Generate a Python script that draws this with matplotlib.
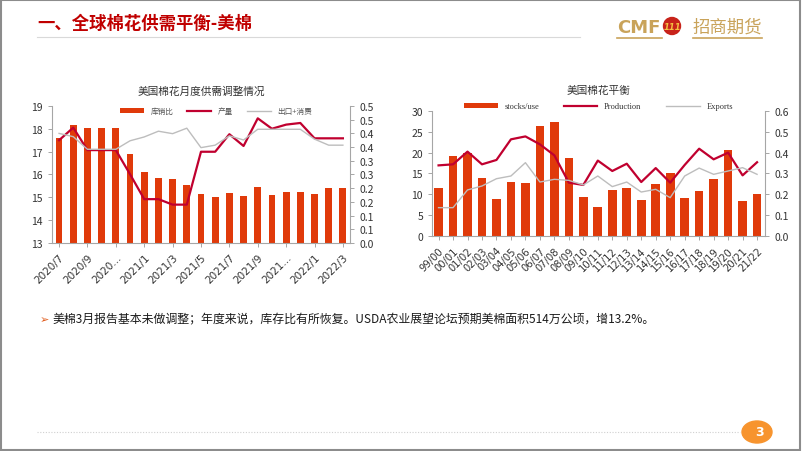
import numpy as np
import matplotlib
matplotlib.use("Agg")
import matplotlib.pyplot as plt
from matplotlib.patches import Rectangle, Ellipse

plt.rcParams['font.family'] = ['Noto Sans CJK SC', 'DejaVu Sans']

# ---- left chart: monthly US balance adjustments
months = ["2020/7", "2020/8", "2020/9", "2020/10", "2020/11", "2020/12",
          "2021/1", "2021/2", "2021/3", "2021/4", "2021/5", "2021/6",
          "2021/7", "2021/8", "2021/9", "2021/10", "2021/11", "2021/12",
          "2022/1", "2022/2", "2022/3"]
month_labels = ["2020/7", "2020/9", "2020...", "2021/1", "2021/3", "2021/5",
                "2021/7", "2021/9", "2021...", "2022/1", "2022/3"]
stock_ratio_m = [17.6, 18.15, 18.05, 18.05, 18.05, 16.9, 16.1, 15.85, 15.8, 15.55,
                 15.15, 15.0, 15.2, 15.05, 15.45, 15.1, 15.25, 15.25, 15.15, 15.4, 15.4]
production_m = [0.375, 0.421, 0.339, 0.339, 0.339, 0.251, 0.160, 0.160, 0.140, 0.140,
                0.333, 0.333, 0.397, 0.354, 0.455, 0.417, 0.432, 0.438, 0.382, 0.382, 0.382]
exp_cons_m = [0.400, 0.388, 0.342, 0.342, 0.342, 0.373, 0.387, 0.408, 0.399, 0.419,
              0.348, 0.357, 0.391, 0.376, 0.415, 0.415, 0.415, 0.415, 0.379, 0.357, 0.357]
right_ticks_l = [0.0, 0.05, 0.1, 0.15, 0.2, 0.25, 0.3, 0.35, 0.4, 0.45, 0.5]
right_labels_l = ["0.0", "0.1", "0.1", "0.2", "0.2", "0.3", "0.3", "0.4", "0.4", "0.5", "0.5"]

# ---- right chart: US yearly balance
seasons = ["99/00", "00/01", "01/02", "02/03", "03/04", "04/05", "05/06", "06/07",
           "07/08", "08/09", "09/10", "10/11", "11/12", "12/13", "13/14", "14/15",
           "15/16", "16/17", "17/18", "18/19", "19/20", "20/21", "21/22"]
stocks_use = [11.5, 19.2, 20.0, 14.0, 8.8, 13.0, 12.8, 26.4, 27.4, 18.8, 9.4, 7.0,
              11.1, 11.4, 8.7, 12.4, 15.0, 9.0, 10.7, 13.6, 20.6, 8.3, 10.1]
production_y = [0.339, 0.344, 0.405, 0.344, 0.365, 0.464, 0.478, 0.440, 0.387, 0.256,
                0.245, 0.362, 0.312, 0.347, 0.259, 0.326, 0.256, 0.341, 0.419, 0.368,
                0.400, 0.291, 0.354]
exports_y = [0.136, 0.136, 0.221, 0.240, 0.275, 0.288, 0.352, 0.259, 0.272, 0.267,
             0.245, 0.288, 0.237, 0.259, 0.211, 0.224, 0.184, 0.288, 0.326, 0.296,
             0.312, 0.328, 0.296]

BAR = "#E03A0A"
PROD = "#C0002F"
GREY = "#BDBDBD"
AXC = "#A6A6A6"
TXT = "#333333"

fig = plt.figure(figsize=(8.02, 4.52), dpi=100)


def style_axes(ax, ax2):
    for a in (ax, ax2):
        a.spines["top"].set_visible(False)
        for s in ("left", "right", "bottom"):
            a.spines[s].set_color(AXC)
            a.spines[s].set_linewidth(0.8)
        a.tick_params(colors=AXC, labelcolor=TXT, labelsize=7.5, length=3, width=0.7)
    ax.spines["right"].set_visible(False)
    ax2.spines["left"].set_visible(False)
    ax2.spines["bottom"].set_visible(False)


# left chart
ax = fig.add_axes([0.0648, 0.4602, 0.3716, 0.3031])
ax2 = ax.twinx()
x = np.arange(len(months))
ax.bar(x, stock_ratio_m, width=0.48, color=BAR, label="库销比")
ax.set_ylim(13, 19)
ax.set_yticks(range(13, 20))
ax.set_xlim(-0.5, len(months) - 0.5)
ax.set_xticks(x[::2])
ax.set_xticklabels(month_labels, rotation=45, ha="right", rotation_mode="anchor",
                   family="DejaVu Sans")
ax2.plot(x, production_m, color=PROD, lw=1.6, label="产量")
ax2.plot(x, exp_cons_m, color=GREY, lw=1.0, label="出口+消费")
ax2.set_ylim(0, 0.5)
ax2.set_yticks(right_ticks_l)
ax2.set_yticklabels(right_labels_l)
style_axes(ax, ax2)
h1, l1 = ax.get_legend_handles_labels()
h2, l2 = ax2.get_legend_handles_labels()
ax.legend(h1 + h2, l1 + l2, ncol=3, loc="upper center", bbox_to_anchor=(0.55, 1.04),
          frameon=False, fontsize=5.5, handlelength=3.2, handleheight=0.5,
          columnspacing=1.8, labelcolor="#555555")
ax.set_title("美国棉花月度供需调整情况", fontsize=7.7, color=TXT, pad=9)

# right chart
bx = fig.add_axes([0.5387, 0.4757, 0.4152, 0.2765])
bx2 = bx.twinx()
xs = np.arange(len(seasons))
bx.bar(xs, stocks_use, width=0.6, color=BAR, label="stocks/use")
bx.set_ylim(0, 30)
bx.set_yticks(range(0, 31, 5))
bx.set_xlim(-0.45, len(seasons) - 0.45)
bx.set_xticks(xs)
bx.set_xticklabels(seasons, rotation=45, ha="right", rotation_mode="anchor",
                   family="DejaVu Sans")
bx2.plot(xs, production_y, color=PROD, lw=1.6, label="Production")
bx2.plot(xs, exports_y, color=GREY, lw=1.0, label="Exports")
bx2.set_ylim(0, 0.6)
bx2.set_yticks(np.arange(0, 0.61, 0.1))
bx2.yaxis.set_major_formatter(matplotlib.ticker.FormatStrFormatter("%.1f"))
style_axes(bx, bx2)
bx.tick_params(axis="x", labelsize=7.2)
h1, l1 = bx.get_legend_handles_labels()
h2, l2 = bx2.get_legend_handles_labels()
bx.legend(h1 + h2, l1 + l2, ncol=3, loc="upper center", bbox_to_anchor=(0.5, 1.13),
          frameon=False, prop={"family": "Liberation Serif", "size": 6},
          handlelength=4, handleheight=0.5, columnspacing=3, labelcolor="#333333")
bx.set_title("美国棉花平衡", fontsize=7.7, color=TXT, pad=13)

# ---- page decorations
fig.patches.append(Rectangle((0.001, 0.002), 0.997, 0.995, transform=fig.transFigure,
                             fill=False, edgecolor="#8C8C8C", lw=1.5))
fig.text(37 / 802, 1 - 24 / 452, "一、全球棉花供需平衡-美棉", fontsize=12.5,
         fontweight="bold", color="#C00000", va="center", ha="left")
fig.add_artist(plt.Line2D([37 / 802, 580 / 802], [1 - 38 / 452] * 2,
                          color="#D9D9D9", lw=0.8))
GOLD = "#C9A35A"
fig.text(617 / 802, 1 - 28 / 452, "CMF", fontsize=13, fontweight="bold", color=GOLD,
         va="center", ha="left", family="DejaVu Sans")
fig.patches.append(Ellipse((672 / 802, 1 - 27 / 452), 17 / 802, 17 / 452,
                           transform=fig.transFigure, color="#C8231A"))
fig.text(672 / 802, 1 - 27 / 452, "111", fontsize=6, fontweight="bold", color="#F5C242",
         va="center", ha="center", style="italic", family="DejaVu Sans")
fig.text(693 / 802, 1 - 28 / 452, "招商期货", fontsize=12.5, color=GOLD,
         va="center", ha="left", family="Noto Sans CJK SC")
fig.add_artist(plt.Line2D([617 / 802, 662 / 802], [1 - 39 / 452] * 2, color=GOLD, lw=1.2))
fig.add_artist(plt.Line2D([693 / 802, 762 / 802], [1 - 39 / 452] * 2, color=GOLD, lw=1.2))

fig.text(40 / 802, 1 - 320 / 452, "➢", fontsize=8, color="#E05A1A", va="center",
         ha="left", family="DejaVu Sans")
fig.text(52 / 802, 1 - 320 / 452,
         "美棉3月报告基本未做调整；年度来说，库存比有所恢复。USDA农业展望论坛预期美棉面积514万公顷，增13.2%。",
         fontsize=8.6, color="#1A1A1A", va="center", ha="left")

fig.add_artist(plt.Line2D([37 / 802, 740 / 802], [1 - 433 / 452] * 2, color="#D0D0D0",
                          lw=0.8, ls=(0, (1, 1.5))))
fig.patches.append(Ellipse((757 / 802, 1 - 433 / 452), 30 / 802, 22 / 452,
                           transform=fig.transFigure, color="#F7942E"))
fig.text(759 / 802, 1 - 433 / 452, "3", fontsize=9, fontweight="bold", color="white",
         va="center", ha="center", family="DejaVu Sans")

fig.savefig("out.png", dpi=100)
